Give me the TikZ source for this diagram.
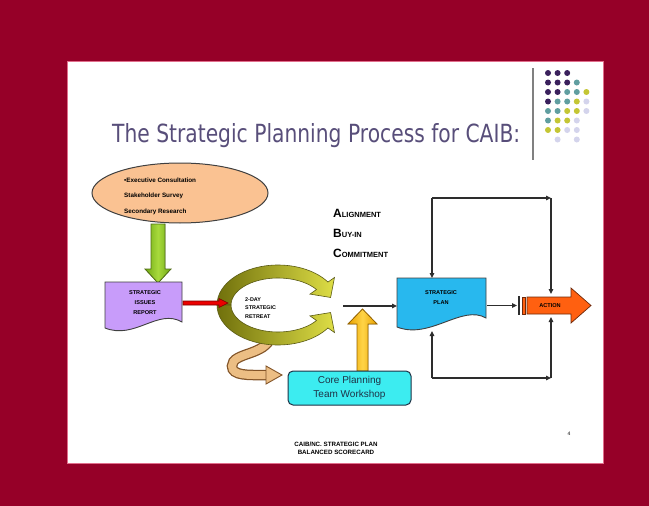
\documentclass[tikz,border=0pt]{standalone}
\usepackage{fontspec}
\usepackage{graphicx}
\setmainfont{Liberation Sans}
\newfontfamily\headfont{DejaVu Sans}
\usetikzlibrary{arrows.meta,shapes.geometric}

\definecolor{frame}{RGB}{150,0,40}
\definecolor{framelight}{RGB}{225,110,140}
\definecolor{headtext}{RGB}{88,78,122}
\definecolor{rulegray}{RGB}{128,128,128}
\definecolor{dotP}{RGB}{58,32,92}
\definecolor{dotT}{RGB}{96,158,160}
\definecolor{dotY}{RGB}{196,198,52}
\definecolor{dotL}{RGB}{212,212,236}
\definecolor{peach}{RGB}{250,194,146}
\definecolor{edge}{RGB}{64,64,64}
\definecolor{leafA}{RGB}{112,168,20}
\definecolor{leafB}{RGB}{168,218,60}
\definecolor{leafD}{RGB}{80,110,20}
\definecolor{lilac}{RGB}{200,156,250}
\definecolor{olvD}{RGB}{112,112,12}
\definecolor{olvL}{RGB}{222,222,70}
\definecolor{olvE}{RGB}{90,90,20}
\definecolor{tanF}{RGB}{236,190,132}
\definecolor{tanE}{RGB}{130,84,40}
\definecolor{goldA}{RGB}{232,160,0}
\definecolor{goldB}{RGB}{255,212,70}
\definecolor{goldE}{RGB}{150,100,0}
\definecolor{aqua}{RGB}{60,236,240}
\definecolor{aquaE}{RGB}{30,50,70}
\definecolor{skyb}{RGB}{40,184,238}
\definecolor{orng}{RGB}{255,96,16}
\definecolor{orngE}{RGB}{110,40,10}
\definecolor{lineC}{RGB}{45,45,45}
\definecolor{redA}{RGB}{235,0,0}
\definecolor{redE}{RGB}{120,0,0}

\tikzset{
  conn/.style={draw=lineC, line width=1.1pt, -{Triangle[length=5pt,width=4.5pt]}},
  tinytext/.style={font=\bfseries\fontsize{5.6}{10}\selectfont, align=center, inner sep=0pt},
  docbox/.style={draw=edge, line width=0.9pt},
  ringpart/.style={left color=olvD, right color=olvL, draw=olvE, line width=0.6pt},
  abc/.style={anchor=base west, inner sep=0pt, font=\bfseries}
}

\begin{document}
\begin{tikzpicture}[x=1pt,y=-1pt]
\useasboundingbox (0,0) rectangle (649,506);
% frame and slide
\fill[frame] (0,0) rectangle (649,506);
\draw[framelight, line width=0.8pt, fill=white] (67,61) rectangle (603,463);

% decorative dot grid
\foreach \c/\r/\k in {1/1/P,2/1/P,3/1/P,
  1/2/P,2/2/P,3/2/P,4/2/T,
  1/3/P,2/3/P,3/3/T,4/3/T,5/3/Y,
  1/4/P,2/4/T,3/4/T,4/4/Y,5/4/L,
  1/5/T,2/5/T,3/5/Y,4/5/Y,5/5/L,
  1/6/T,2/6/Y,3/6/Y,4/6/L,
  1/7/Y,2/7/Y,3/7/L,4/7/L,
  2/8/L,4/8/L}
  \fill[dot\k] ({548+9.6*(\c-1)},{73+9.5*(\r-1)}) circle[radius=3pt];
\draw[rulegray, line width=1.6pt] (533,68) -- (533,160);

% heading
\node[anchor=base west, inner sep=0pt, text=headtext] (title) at (112,142)
  {\resizebox{408pt}{19pt}{\headfont The Strategic Planning Process for CAIB:}};

% inputs
\fill[left color=leafA, right color=leafA, middle color=leafB, draw=leafD, line width=0.8pt]
  (151,224) -- (165,224) -- (165,269) -- (171,269) -- (158,283) -- (145,269) -- (151,269) -- cycle;
\node[ellipse, draw=edge, line width=1pt, fill=peach, minimum width=176pt, minimum height=60pt] (src) at (180,193) {};
\node[anchor=west, align=left, inner sep=0pt, font=\bfseries\fontsize{6.3}{15.5}\selectfont] (srctext) at (124,196)
  {•Executive Consultation\\Stakeholder Survey\\Secondary Research};

% strategic issues report
\path[docbox, fill=lilac] (105,282) -- (182,282) -- (182,322)
  .. controls (158,308) and (135,340) .. (105,328) -- cycle;
\node[tinytext, font=\bfseries\fontsize{5.6}{10}\selectfont] (report) at (145,303) {STRATEGIC\\ISSUES\\REPORT};

% feedback loop from the retreat
\draw[tanE, line width=10.5pt] (271,336) .. controls (266,356) and (232,352) .. (232,366)
  .. controls (232,376) and (248,375) .. (266,375);
\draw[tanF, line width=8pt] (271,336) .. controls (266,356) and (232,352) .. (232,366)
  .. controls (232,376) and (248,375) .. (266,375);
\filldraw[fill=tanF, draw=tanE, line width=0.9pt] (266,366) -- (282,375) -- (266,384) -- cycle;

% circular arrows of the retreat
\path[ringpart] (217,305) arc[start angle=180, end angle=325, x radius=61, y radius=40]
  -- ({278+69*cos(325)},{305+48*sin(325)})
  -- ({278+54*cos(347)},{305+33.5*sin(347)})
  -- ({278+39*cos(325)},{305+19*sin(325)})
  -- ({278+47*cos(325)},{305+27*sin(325)})
  arc[start angle=325, end angle=180, x radius=47, y radius=27] -- cycle;
\path[ringpart] (217,305) arc[start angle=180, end angle=35, x radius=61, y radius=40]
  -- ({278+69*cos(35)},{305+48*sin(35)})
  -- ({278+54*cos(13)},{305+33.5*sin(13)})
  -- ({278+39*cos(35)},{305+19*sin(35)})
  -- ({278+47*cos(35)},{305+27*sin(35)})
  arc[start angle=35, end angle=180, x radius=47, y radius=27] -- cycle;

% report into retreat
\filldraw[fill=redA, draw=redE, line width=0.6pt]
  (183,301) -- (219,301) -- (219,298.5) -- (228,303) -- (219,307.5) -- (219,305) -- (183,305) -- cycle;
\node[anchor=west, align=left, inner sep=0pt, font=\bfseries\fontsize{5.4}{8.6}\selectfont] (retreat) at (245,308)
  {2-DAY\\STRATEGIC\\RETREAT};

% outcomes
\node[abc] (alignm) at (333,217) {\fontsize{12}{12}\selectfont A\fontsize{7.5}{7.5}\selectfont LIGNMENT};
\node[abc] (buyin) at (333,237) {\fontsize{12}{12}\selectfont B\fontsize{7.5}{7.5}\selectfont UY-IN};
\node[abc] (commit) at (333,257) {\fontsize{12}{12}\selectfont C\fontsize{7.5}{7.5}\selectfont OMMITMENT};

% strategic plan
\path[docbox, fill=skyb] (397,278) -- (486,278) -- (486,318)
  .. controls (462,304) and (430,340) .. (397,327) -- cycle;
\node[tinytext] (plan) at (441,298) {STRATEGIC\\PLAN};

\coordinate (ringout) at (343,306);
\coordinate (planW) at (397,306);
\draw[conn] (ringout) -- (planW);

% core planning team workshop
\fill[left color=goldA, right color=goldA, middle color=goldB, draw=goldE, line width=0.8pt]
  (357,371) -- (357,324) -- (348,324) -- (362.5,309) -- (377,324) -- (368,324) -- (368,371) -- cycle;
\node[draw=aquaE, line width=1pt, fill=aqua, rounded corners=5pt, minimum width=123pt, minimum height=34pt,
  align=center, text=aquaE, font=\fontsize{10}{14.5}\selectfont] (core) at (349.5,388) {Core Planning\\Team Workshop};

% action
\fill[lineC] (518,296) rectangle (520,315);
\filldraw[fill=orng, draw=orngE, line width=0.6pt] (522,297) rectangle (525.5,314);
\filldraw[fill=orng, draw=orngE, line width=0.7pt]
  (527,297) -- (571,297) -- (571,288) -- (591,305.5) -- (571,323) -- (571,314) -- (527,314) -- cycle;
\node[tinytext] (action) at (550,305.5) {ACTION};

% connectors around plan and action
\coordinate (planE) at (487,305.5);
\coordinate (actW) at (517,305.5);
\coordinate (planN) at (432,278);
\coordinate (planS) at (432,331);
\coordinate (tl) at (432,198);
\coordinate (tr) at (551,198);
\coordinate (bl) at (432,378);
\coordinate (br) at (551,378);
\coordinate (actN) at (551,294);
\coordinate (actS) at (551,317);
\draw[conn] (planE) -- (actW);
\draw[conn] (tl) -- (planN);
\draw[conn] (tl) -- (tr);
\draw[conn] (tr) -- (actN);
\draw[conn] (bl) -- (planS);
\draw[conn] (bl) -- (br);
\draw[conn] (br) -- (actS);

% footer
\node[tinytext, font=\bfseries\fontsize{6.2}{8}\selectfont] (foot) at (336,448) {CAIB/NC. STRATEGIC PLAN\\BALANCED SCORECARD};
\node[inner sep=0pt, font=\fontsize{5}{5}\selectfont] (pagenum) at (569,434) {4};
\end{tikzpicture}
\end{document}
